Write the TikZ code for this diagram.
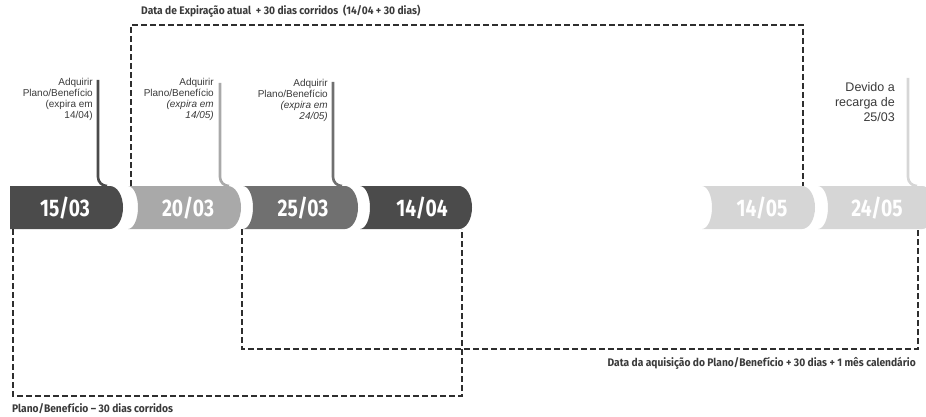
\documentclass[tikz,border=0pt]{standalone}
\usepackage{fontspec}
\setmainfont{Liberation Sans}
\newfontfamily\condfont[FakeStretch=0.93]{Fira Sans}
\newfontfamily\blockfont[FakeStretch=0.8]{Fira Sans}
\definecolor{cdark}{HTML}{4B4B4B}
\definecolor{cmid}{HTML}{707070}
\definecolor{clight}{HTML}{A9A9A9}
\definecolor{cpale}{HTML}{D6D6D6}
\definecolor{ctext}{HTML}{3A3A3A}
\definecolor{cdash}{HTML}{2E2E2E}
\begin{document}
\begin{tikzpicture}[x=1pt,y=-1pt,
  blocktext/.style={text=white,font=\blockfont\bfseries\fontsize{24}{24}\selectfont,inner sep=0pt},
  smalllab/.style={anchor=north east,align=right,text=ctext,font=\fontsize{10}{11}\selectfont,inner sep=0pt},
  biglab/.style={anchor=north east,align=right,text=ctext,font=\fontsize{12.5}{15}\selectfont,inner sep=0pt},
  boldlab/.style={text=ctext,font=\condfont\bfseries\fontsize{11}{13}\selectfont,inner sep=0pt},
  dashline/.style={draw=cdash,line width=1.8pt,dash pattern=on 6pt off 3pt},
  pinline/.style={line width=2.6pt},
  rend/.style={start angle=-90,end angle=90,x radius=13,y radius=21.5},
  notch/.style={start angle=90,end angle=-90,x radius=10,y radius=21.5}]
\useasboundingbox (0,0) rectangle (926,417);
\begin{scope}
\clip (0,0) rectangle (926,417);
% blocks
\fill[cdark] (10,186) -- (110,186) arc[rend] -- (10,229) -- cycle;
\fill[clight] (128,186) -- (228,186) arc[rend] -- (128,229) arc[notch] -- cycle;
\fill[cmid] (243,186) -- (345,186) arc[rend] -- (243,229) arc[notch] -- cycle;
\fill[cdark] (360,186) -- (459,186) arc[rend] -- (360,229) arc[notch] -- cycle;
\fill[cpale] (702,186) -- (802,186) arc[rend] -- (702,229) arc[notch] -- cycle;
\fill[cpale] (818,186) -- (922,186) arc[rend] -- (818,229) arc[notch] -- cycle;
% pins
\draw[pinline,draw=cdark] (98,80) -- (98,177) arc[start angle=180,end angle=90,radius=9];
\draw[pinline,draw=clight] (220,83) -- (220,177) arc[start angle=180,end angle=90,radius=9];
\draw[pinline,draw=cmid] (333,82) -- (333,177) arc[start angle=180,end angle=90,radius=9];
\draw[pinline,draw=cpale] (908,78) -- (908,177) arc[start angle=180,end angle=90,radius=9];
\end{scope}
% block texts
\node[blocktext] (t1) at (65,208) {15/03};
\node[blocktext] (t2) at (188,208) {20/03};
\node[blocktext] (t3) at (303,208) {25/03};
\node[blocktext] (t4) at (422,208) {14/04};
\node[blocktext] (t5) at (762,208) {14/05};
\node[blocktext] (t6) at (877,208) {24/05};
% small labels
\node[smalllab] (l1) at (93,78) {Adquirir\\Plano/Benefício\\(expira em\\14/04)};
\node[smalllab] (l2) at (214,78) {Adquirir\\Plano/Benefício\\\textit{(expira em}\\\textit{14/05)}};
\node[smalllab] (l3) at (328,79) {Adquirir\\Plano/Benefício\\\textit{(expira em}\\\textit{24/05)}};
\node[biglab] (l4) at (895,82) {Devido a\\recarga de\\25/03};
% dashed connectors
\coordinate (b2tl) at (131,186);
\coordinate (b5tr) at (803,186);
\coordinate (topc) at (131,25);
\draw[dashline] (b2tl) -- (topc) -| (b5tr);
\coordinate (b1bl) at (13,229);
\coordinate (b4br) at (462,229);
\coordinate (botc) at (13,396);
\draw[dashline] (b1bl) -- (botc) -| (b4br);
\coordinate (b3bl) at (242,229);
\coordinate (b6br) at (918,229);
\coordinate (midc) at (242,349);
\draw[dashline] (b3bl) -- (midc) -| (b6br);
% bold labels
\node[boldlab,anchor=west] (toplab) at (141,11) {Data de Expiração atual \ + 30 dias corridos \ (14/04 + 30 dias)};
\node[boldlab,anchor=east] (midlab) at (916,363) {Data da aquisição do Plano/Benefício + 30 dias + 1 mês calendário};
\node[boldlab,anchor=west] (botlab) at (12,409) {Plano/Benefício – 30 dias corridos};
\end{tikzpicture}
\end{document}
